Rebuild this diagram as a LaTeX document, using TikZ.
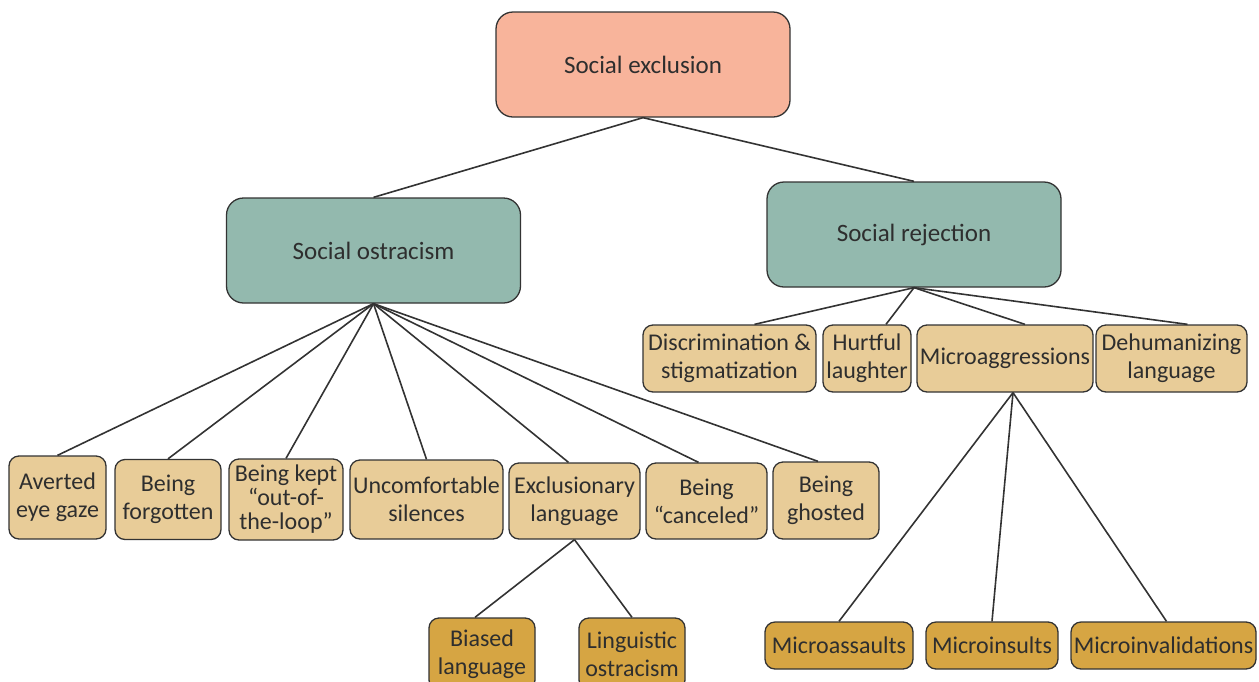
\documentclass[tikz,border=0pt]{standalone}
\usepackage{fontspec}
\setmainfont{Carlito}
\definecolor{exclfill}{HTML}{F8B49B}
\definecolor{typefill}{HTML}{93B9AE}
\definecolor{formfill}{HTML}{E8CC98}
\definecolor{subfill}{HTML}{D6A543}
\definecolor{boxline}{HTML}{333333}
\definecolor{txt}{HTML}{2E2E2E}
\begin{document}
\begin{tikzpicture}[x=1pt,y=-1pt,
  box/.style={draw=boxline, line width=1.3pt, rounded corners=10pt, align=center,
    inner sep=0pt, text=txt, font=\fontsize{24}{28}\selectfont},
  topbox/.style={box, rounded corners=17pt, minimum width=294pt, minimum height=105pt,
    font=\fontsize{25}{30}\selectfont},
  formbox/.style={box, fill=formfill},
  subbox/.style={box, fill=subfill},
  link/.style={draw=boxline, line width=1.6pt}]
\useasboundingbox (0,0) rectangle (1259,681);
% top levels
\node[topbox, fill=exclfill] (excl) at (643,64.5) {Social exclusion};
\node[topbox, fill=typefill] (ostr) at (373.5,250.5) {Social ostracism};
\node[topbox, fill=typefill] (rej) at (914,234.5) {Social rejection};
\draw[link] (excl.south) -- (ostr.north);
\draw[link] (excl.south) -- (rej.north);
% ostracism forms
\node[formbox, minimum width=97pt, minimum height=83pt] (gaze) at (57.5,497.5) {Averted\\eye gaze};
\node[formbox, minimum width=106pt, minimum height=80pt] (forgot) at (168,499.5) {Being\\forgotten};
\node[formbox, minimum width=114pt, minimum height=81pt, font=\fontsize{24}{24}\selectfont] (loop) at (286,499.5) {Being kept\\“out-of-\\the-loop”};
\node[formbox, minimum width=153pt, minimum height=79pt] (silence) at (426.5,499.5) {Uncomfortable\\silences};
\node[formbox, minimum width=131pt, minimum height=76pt] (exlang) at (574.5,501) {Exclusionary\\language};
\node[formbox, minimum width=121pt, minimum height=76pt] (cancel) at (706.5,501) {Being\\“canceled”};
\node[formbox, minimum width=106pt, minimum height=77pt] (ghost) at (826,500.5) {Being\\ghosted};
\draw[link] (ostr.south) -- (gaze.north);
\draw[link] (ostr.south) -- (forgot.north);
\draw[link] (ostr.south) -- (loop.north);
\draw[link] (ostr.south) -- (silence.north);
\draw[link] (ostr.south) -- ([xshift=-6pt]exlang.north);
\draw[link] (ostr.south) -- ([xshift=-8pt]cancel.north);
\draw[link] (ostr.south) -- ([xshift=-8pt]ghost.north);
% exclusionary language
\node[subbox, minimum width=106pt, minimum height=72pt] (biased) at (482,654) {Biased\\language};
\node[subbox, minimum width=106pt, minimum height=72pt] (lingu) at (632,654) {Linguistic\\ostracism};
\draw[link] (exlang.south) -- ([xshift=-7pt]biased.north);
\draw[link] (exlang.south) -- (lingu.north);
% rejection forms
\node[formbox, minimum width=173pt, minimum height=67pt] (discr) at (729.5,358.5) {Discrimination \&\\stigmatization};
\node[formbox, minimum width=88pt, minimum height=67pt] (laugh) at (867,358.5) {Hurtful\\laughter};
\node[formbox, minimum width=176pt, minimum height=67pt] (micro) at (1005,358.5) {Microaggressions};
\node[formbox, minimum width=151pt, minimum height=67pt] (dehum) at (1171.5,358.5) {Dehumanizing\\language};
\draw[link] (rej.south) -- ([xshift=25pt]discr.north);
\draw[link] (rej.south) -- ([xshift=19pt]laugh.north);
\draw[link] (rej.south) -- ([xshift=20pt]micro.north);
\draw[link] (rej.south) -- ([xshift=16pt]dehum.north);
% microaggressions
\node[subbox, minimum width=148pt, minimum height=47pt] (assault) at (839,645.5) {Microassaults};
\node[subbox, minimum width=132pt, minimum height=47pt] (insult) at (992,645.5) {Microinsults};
\node[subbox, minimum width=185pt, minimum height=47pt] (invalid) at (1163.5,645.5) {Microinvalidations};
\draw[link] ([xshift=8pt]micro.south) -- (assault.north);
\draw[link] ([xshift=8pt]micro.south) -- (insult.north);
\draw[link] ([xshift=8pt]micro.south) -- ([xshift=3pt]invalid.north);
\end{tikzpicture}
\end{document}
